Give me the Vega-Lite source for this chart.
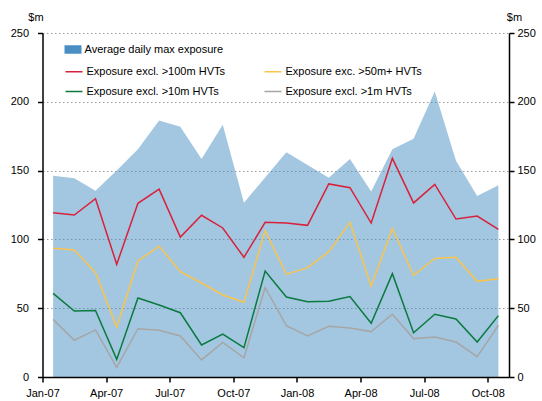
{
  "$schema": "https://vega.github.io/schema/vega-lite/v6.json",
  "width": 466.5,
  "height": 344,
  "autosize": {"type": "none"},
  "padding": {"left": 42.5, "top": 33, "right": 33, "bottom": 24},
  "background": "white",
  "config": {
    "view": {"stroke": null},
    "font": "Liberation Sans",
    "axis": {"labelFont": "Liberation Sans", "labelFontSize": 11, "labelColor": "black", "titleFont": "Liberation Sans", "titleFontSize": 11, "titleFontWeight": "normal", "titleColor": "black"},
    "legend": {"labelFont": "Liberation Sans", "labelFontSize": 11, "labelColor": "black"}
  },
  "datasets": {
    "area": [
      {"m": "Jan-07", "s": "Average daily max exposure", "v": 146.3},
      {"m": "Feb-07", "s": "Average daily max exposure", "v": 144.4},
      {"m": "Mar-07", "s": "Average daily max exposure", "v": 135.4},
      {"m": "Apr-07", "s": "Average daily max exposure", "v": 150.0},
      {"m": "May-07", "s": "Average daily max exposure", "v": 165.5},
      {"m": "Jun-07", "s": "Average daily max exposure", "v": 186.5},
      {"m": "Jul-07", "s": "Average daily max exposure", "v": 181.9},
      {"m": "Aug-07", "s": "Average daily max exposure", "v": 158.4},
      {"m": "Sep-07", "s": "Average daily max exposure", "v": 183.4},
      {"m": "Oct-07", "s": "Average daily max exposure", "v": 126.7},
      {"m": "Nov-07", "s": "Average daily max exposure", "v": 145.0},
      {"m": "Dec-07", "s": "Average daily max exposure", "v": 163.3},
      {"m": "Jan-08", "s": "Average daily max exposure", "v": 154.0},
      {"m": "Feb-08", "s": "Average daily max exposure", "v": 144.8},
      {"m": "Mar-08", "s": "Average daily max exposure", "v": 158.4},
      {"m": "Apr-08", "s": "Average daily max exposure", "v": 134.8},
      {"m": "May-08", "s": "Average daily max exposure", "v": 165.6},
      {"m": "Jun-08", "s": "Average daily max exposure", "v": 173.2},
      {"m": "Jul-08", "s": "Average daily max exposure", "v": 207.4},
      {"m": "Aug-08", "s": "Average daily max exposure", "v": 157.2},
      {"m": "Sep-08", "s": "Average daily max exposure", "v": 131.5},
      {"m": "Oct-08", "s": "Average daily max exposure", "v": 139.3}
    ],
    "lines": [
      {"m": "Jan-07", "s": "Exposure excl. >100m HVTs", "v": 119.4},
      {"m": "Feb-07", "s": "Exposure excl. >100m HVTs", "v": 117.7},
      {"m": "Mar-07", "s": "Exposure excl. >100m HVTs", "v": 129.6},
      {"m": "Apr-07", "s": "Exposure excl. >100m HVTs", "v": 81.9},
      {"m": "May-07", "s": "Exposure excl. >100m HVTs", "v": 126.2},
      {"m": "Jun-07", "s": "Exposure excl. >100m HVTs", "v": 136.5},
      {"m": "Jul-07", "s": "Exposure excl. >100m HVTs", "v": 101.7},
      {"m": "Aug-07", "s": "Exposure excl. >100m HVTs", "v": 117.5},
      {"m": "Sep-07", "s": "Exposure excl. >100m HVTs", "v": 108.3},
      {"m": "Oct-07", "s": "Exposure excl. >100m HVTs", "v": 87.0},
      {"m": "Nov-07", "s": "Exposure excl. >100m HVTs", "v": 112.4},
      {"m": "Dec-07", "s": "Exposure excl. >100m HVTs", "v": 111.9},
      {"m": "Jan-08", "s": "Exposure excl. >100m HVTs", "v": 110.2},
      {"m": "Feb-08", "s": "Exposure excl. >100m HVTs", "v": 140.3},
      {"m": "Mar-08", "s": "Exposure excl. >100m HVTs", "v": 137.6},
      {"m": "Apr-08", "s": "Exposure excl. >100m HVTs", "v": 111.9},
      {"m": "May-08", "s": "Exposure excl. >100m HVTs", "v": 158.9},
      {"m": "Jun-08", "s": "Exposure excl. >100m HVTs", "v": 126.5},
      {"m": "Jul-08", "s": "Exposure excl. >100m HVTs", "v": 140.0},
      {"m": "Aug-08", "s": "Exposure excl. >100m HVTs", "v": 114.8},
      {"m": "Sep-08", "s": "Exposure excl. >100m HVTs", "v": 117.0},
      {"m": "Oct-08", "s": "Exposure excl. >100m HVTs", "v": 107.3},
      {"m": "Jan-07", "s": "Exposure exc. >50m+ HVTs", "v": 93.5},
      {"m": "Feb-07", "s": "Exposure exc. >50m+ HVTs", "v": 92.3},
      {"m": "Mar-07", "s": "Exposure exc. >50m+ HVTs", "v": 75.8},
      {"m": "Apr-07", "s": "Exposure exc. >50m+ HVTs", "v": 36.3},
      {"m": "May-07", "s": "Exposure exc. >50m+ HVTs", "v": 84.3},
      {"m": "Jun-07", "s": "Exposure exc. >50m+ HVTs", "v": 95.1},
      {"m": "Jul-07", "s": "Exposure exc. >50m+ HVTs", "v": 76.5},
      {"m": "Aug-07", "s": "Exposure exc. >50m+ HVTs", "v": 68.3},
      {"m": "Sep-07", "s": "Exposure exc. >50m+ HVTs", "v": 59.6},
      {"m": "Oct-07", "s": "Exposure exc. >50m+ HVTs", "v": 54.3},
      {"m": "Nov-07", "s": "Exposure exc. >50m+ HVTs", "v": 106.3},
      {"m": "Dec-07", "s": "Exposure exc. >50m+ HVTs", "v": 74.6},
      {"m": "Jan-08", "s": "Exposure exc. >50m+ HVTs", "v": 79.5},
      {"m": "Feb-08", "s": "Exposure exc. >50m+ HVTs", "v": 91.0},
      {"m": "Mar-08", "s": "Exposure exc. >50m+ HVTs", "v": 112.4},
      {"m": "Apr-08", "s": "Exposure exc. >50m+ HVTs", "v": 65.9},
      {"m": "May-08", "s": "Exposure exc. >50m+ HVTs", "v": 108.0},
      {"m": "Jun-08", "s": "Exposure exc. >50m+ HVTs", "v": 73.9},
      {"m": "Jul-08", "s": "Exposure exc. >50m+ HVTs", "v": 86.2},
      {"m": "Aug-08", "s": "Exposure exc. >50m+ HVTs", "v": 87.0},
      {"m": "Sep-08", "s": "Exposure exc. >50m+ HVTs", "v": 69.5},
      {"m": "Oct-08", "s": "Exposure exc. >50m+ HVTs", "v": 71.4},
      {"m": "Jan-07", "s": "Exposure excl. >10m HVTs", "v": 60.8},
      {"m": "Feb-07", "s": "Exposure excl. >10m HVTs", "v": 48.0},
      {"m": "Mar-07", "s": "Exposure excl. >10m HVTs", "v": 48.4},
      {"m": "Apr-07", "s": "Exposure excl. >10m HVTs", "v": 12.8},
      {"m": "May-07", "s": "Exposure excl. >10m HVTs", "v": 57.4},
      {"m": "Jun-07", "s": "Exposure excl. >10m HVTs", "v": 52.3},
      {"m": "Jul-07", "s": "Exposure excl. >10m HVTs", "v": 46.7},
      {"m": "Aug-07", "s": "Exposure excl. >10m HVTs", "v": 23.3},
      {"m": "Sep-07", "s": "Exposure excl. >10m HVTs", "v": 31.2},
      {"m": "Oct-07", "s": "Exposure excl. >10m HVTs", "v": 21.3},
      {"m": "Nov-07", "s": "Exposure excl. >10m HVTs", "v": 77.0},
      {"m": "Dec-07", "s": "Exposure excl. >10m HVTs", "v": 58.1},
      {"m": "Jan-08", "s": "Exposure excl. >10m HVTs", "v": 54.7},
      {"m": "Feb-08", "s": "Exposure excl. >10m HVTs", "v": 55.0},
      {"m": "Mar-08", "s": "Exposure excl. >10m HVTs", "v": 58.4},
      {"m": "Apr-08", "s": "Exposure excl. >10m HVTs", "v": 39.0},
      {"m": "May-08", "s": "Exposure excl. >10m HVTs", "v": 75.1},
      {"m": "Jun-08", "s": "Exposure excl. >10m HVTs", "v": 32.2},
      {"m": "Jul-08", "s": "Exposure excl. >10m HVTs", "v": 45.6},
      {"m": "Aug-08", "s": "Exposure excl. >10m HVTs", "v": 42.2},
      {"m": "Sep-08", "s": "Exposure excl. >10m HVTs", "v": 25.4},
      {"m": "Oct-08", "s": "Exposure excl. >10m HVTs", "v": 44.6},
      {"m": "Jan-07", "s": "Exposure excl. >1m HVTs", "v": 41.9},
      {"m": "Feb-07", "s": "Exposure excl. >1m HVTs", "v": 26.7},
      {"m": "Mar-07", "s": "Exposure excl. >1m HVTs", "v": 34.2},
      {"m": "Apr-07", "s": "Exposure excl. >1m HVTs", "v": 7.0},
      {"m": "May-07", "s": "Exposure excl. >1m HVTs", "v": 35.1},
      {"m": "Jun-07", "s": "Exposure excl. >1m HVTs", "v": 33.9},
      {"m": "Jul-07", "s": "Exposure excl. >1m HVTs", "v": 29.8},
      {"m": "Aug-07", "s": "Exposure excl. >1m HVTs", "v": 12.4},
      {"m": "Sep-07", "s": "Exposure excl. >1m HVTs", "v": 25.2},
      {"m": "Oct-07", "s": "Exposure excl. >1m HVTs", "v": 14.0},
      {"m": "Nov-07", "s": "Exposure excl. >1m HVTs", "v": 64.9},
      {"m": "Dec-07", "s": "Exposure excl. >1m HVTs", "v": 37.3},
      {"m": "Jan-08", "s": "Exposure excl. >1m HVTs", "v": 29.8},
      {"m": "Feb-08", "s": "Exposure excl. >1m HVTs", "v": 36.8},
      {"m": "Mar-08", "s": "Exposure excl. >1m HVTs", "v": 35.6},
      {"m": "Apr-08", "s": "Exposure excl. >1m HVTs", "v": 33.0},
      {"m": "May-08", "s": "Exposure excl. >1m HVTs", "v": 45.6},
      {"m": "Jun-08", "s": "Exposure excl. >1m HVTs", "v": 27.9},
      {"m": "Jul-08", "s": "Exposure excl. >1m HVTs", "v": 29.1},
      {"m": "Aug-08", "s": "Exposure excl. >1m HVTs", "v": 25.4},
      {"m": "Sep-08", "s": "Exposure excl. >1m HVTs", "v": 14.8},
      {"m": "Oct-08", "s": "Exposure excl. >1m HVTs", "v": 37.5}
    ]
  },
  "encoding": {
    "x": {
      "field": "m",
      "type": "ordinal",
      "scale": {
        "type": "point",
        "padding": 0.5,
        "domain": ["Jan-07","Feb-07","Mar-07","Apr-07","May-07","Jun-07","Jul-07","Aug-07","Sep-07","Oct-07","Nov-07","Dec-07","Jan-08","Feb-08","Mar-08","Apr-08","May-08","Jun-08","Jul-08","Aug-08","Sep-08","Oct-08"]
      },
      "axis": {
        "title": null,
        "values": ["Jan-07","Apr-07","Jul-07","Oct-07","Jan-08","Apr-08","Jul-08","Oct-08"],
        "labelAngle": 0,
        "tickOffset": -10.6,
        "tickSize": 5,
        "tickWidth": 1.5,
        "tickColor": "black",
        "domainColor": "black",
        "domainWidth": 1.5,
        "labelPadding": 5,
        "grid": false,
        "zindex": 1
      }
    }
  },
  "layer": [
    {
      "data": {"name": "area"},
      "mark": {"type": "area", "fillOpacity": 0.5, "strokeWidth": 0},
      "encoding": {
        "y": {
          "field": "v",
          "type": "quantitative",
          "scale": {"domain": [0, 250], "nice": false},
          "axis": {
            "orient": "left",
            "values": [0, 50, 100, 150, 200, 250],
            "title": "$m",
            "titleAngle": 0,
            "titleAlign": "center",
            "titleBaseline": "middle",
            "titleX": -7,
            "titleY": -16,
            "tickSize": 5,
            "tickWidth": 1.5,
            "tickColor": "black",
            "domainColor": "black",
            "domainWidth": 1.5,
            "labelPadding": 9,
            "grid": true,
            "gridColor": "#9a9a9a",
            "gridDash": [1.5, 2.5],
            "gridWidth": 1,
            "zindex": 0
          }
        },
        "fill": {
          "field": "s",
          "type": "nominal",
          "scale": {"range": ["#4a8fc4"]},
          "legend": {
            "title": null,
            "orient": "none",
            "legendX": 22,
            "legendY": 8,
            "padding": 0,
            "symbolType": "M-1,-0.5H1V0.5H-1Z",
            "symbolSize": 289,
            "symbolOpacity": 1,
            "symbolStrokeWidth": 0,
            "labelOffset": 3
          }
        }
      }
    },
    {
      "data": {"name": "lines"},
      "mark": {"type": "line", "strokeWidth": 1.5},
      "encoding": {
        "y": {
          "field": "v",
          "type": "quantitative",
          "axis": {
            "orient": "right",
            "values": [0, 50, 100, 150, 200, 250],
            "title": "$m",
            "titleAngle": 0,
            "titleAlign": "center",
            "titleBaseline": "middle",
            "titleX": 5,
            "titleY": -16,
            "tickSize": 5,
            "tickWidth": 1.5,
            "tickColor": "black",
            "domainColor": "black",
            "domainWidth": 1.5,
            "labelPadding": 3,
            "grid": false,
            "zindex": 1
          }
        },
        "stroke": {
          "field": "s",
          "type": "nominal",
          "scale": {
            "domain": ["Exposure excl. >100m HVTs", "Exposure excl. >10m HVTs", "Exposure exc. >50m+ HVTs", "Exposure excl. >1m HVTs"],
            "range": ["#d8213b", "#0a7a3e", "#f8c44c", "#a6a6a6"]
          },
          "legend": {
            "title": null,
            "orient": "none",
            "legendX": 22,
            "legendY": 29,
            "padding": 0,
            "columns": 2,
            "columnPadding": 36,
            "rowPadding": 5,
            "symbolType": "stroke",
            "symbolSize": 289,
            "symbolStrokeWidth": 1.5,
            "labelOffset": 3
          }
        }
      }
    }
  ],
  "resolve": {"scale": {"y": "shared"}, "axis": {"y": "independent"}}
}
